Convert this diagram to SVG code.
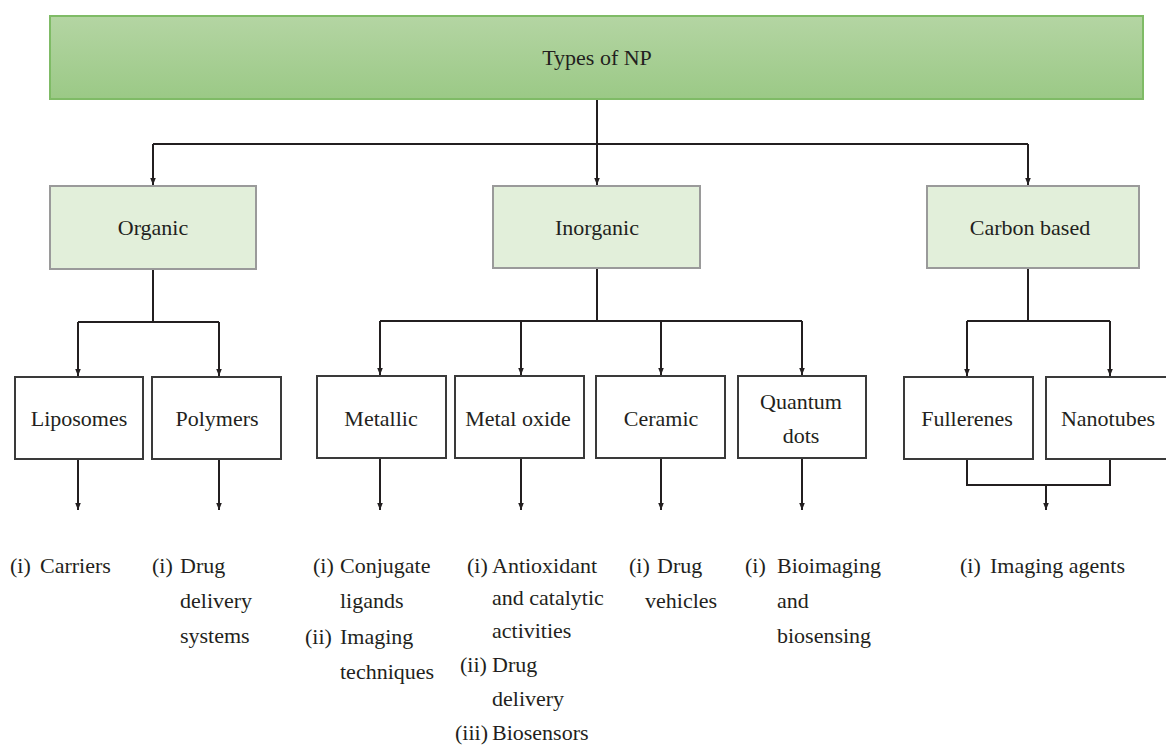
<svg xmlns="http://www.w3.org/2000/svg" width="1166" height="745" viewBox="0 0 1166 745">
<defs>
<linearGradient id="gTop" x1="0" y1="0" x2="0" y2="1">
<stop offset="0" stop-color="#b4d5a3"/>
<stop offset="1" stop-color="#9bc986"/>
</linearGradient>
<marker id="arr" viewBox="0 0 10 10" refX="10" refY="5" markerWidth="7" markerHeight="7" orient="auto" markerUnits="userSpaceOnUse">
<path d="M0,1 L10,5 L0,9 Z" fill="#231f20"/>
</marker>
<style>
.t{font-family:"Liberation Serif","DejaVu Serif",serif;font-size:22px;fill:#231f20}
.c{text-anchor:middle}
.top{fill:url(#gTop);stroke:#7fbb66;stroke-width:2}
.cat{fill:#e2efda;stroke:#9a9a9a;stroke-width:2}
.box{fill:#fff;stroke:#3a3a3a;stroke-width:2}
.ln{fill:none;stroke:#231f20;stroke-width:2}
.ar{fill:none;stroke:#231f20;stroke-width:2;marker-end:url(#arr)}
</style>
</defs>
<rect width="1166" height="745" fill="#fff"/>

<g id="connectors">
<path class="ln" d="M597,99 V144 M153,144 H1028"/>
<path class="ar" d="M153,144 V185"/>
<path class="ar" d="M597,144 V185"/>
<path class="ar" d="M1028,144 V185"/>

<path class="ln" d="M153,269 V322 M78,322 H219"/>
<path class="ar" d="M78,322 V376"/>
<path class="ar" d="M219,322 V376"/>

<path class="ln" d="M597,268 V321 M380,321 H802"/>
<path class="ar" d="M380,321 V375"/>
<path class="ar" d="M521,321 V375"/>
<path class="ar" d="M661,321 V375"/>
<path class="ar" d="M802,321 V375"/>

<path class="ln" d="M1028,268 V321 M967,321 H1110"/>
<path class="ar" d="M967,321 V376"/>
<path class="ar" d="M1110,321 V376"/>

<path class="ar" d="M78,459 V510"/>
<path class="ar" d="M219,459 V510"/>
<path class="ar" d="M380,458 V510"/>
<path class="ar" d="M521,458 V510"/>
<path class="ar" d="M661,458 V510"/>
<path class="ar" d="M802,458 V510"/>
<path class="ln" d="M967,459 V485 H1110 V459"/>
<path class="ar" d="M1046,485 V510"/>
</g>

<g id="types-of-np">
<rect class="top" x="50" y="16" width="1093" height="83"/>
<text class="t c" x="597" y="65">Types of NP</text>
</g>

<g id="organic">
<rect class="cat" x="50" y="186" width="206" height="83"/>
<text class="t c" x="153" y="235">Organic</text>
</g>
<g id="inorganic">
<rect class="cat" x="493" y="186" width="207" height="82"/>
<text class="t c" x="597" y="235">Inorganic</text>
</g>
<g id="carbon-based">
<rect class="cat" x="927" y="186" width="212" height="82"/>
<text class="t c" x="1030" y="235">Carbon based</text>
</g>

<g id="liposomes">
<rect class="box" x="15" y="377" width="128" height="82"/>
<text class="t c" x="79" y="426">Liposomes</text>
</g>
<g id="polymers">
<rect class="box" x="152" y="377" width="129" height="82"/>
<text class="t c" x="217" y="426">Polymers</text>
</g>
<g id="metallic">
<rect class="box" x="317" y="376" width="129" height="82"/>
<text class="t c" x="381" y="426">Metallic</text>
</g>
<g id="metal-oxide">
<rect class="box" x="455" y="376" width="129" height="82"/>
<text class="t c" x="518" y="426">Metal oxide</text>
</g>
<g id="ceramic">
<rect class="box" x="596" y="376" width="129" height="82"/>
<text class="t c" x="661" y="426">Ceramic</text>
</g>
<g id="quantum-dots">
<rect class="box" x="738" y="376" width="128" height="82"/>
<text class="t c" x="801" y="409">Quantum</text>
<text class="t c" x="801" y="443">dots</text>
</g>
<g id="fullerenes">
<rect class="box" x="904" y="377" width="129" height="82"/>
<text class="t c" x="967" y="426">Fullerenes</text>
</g>
<g id="nanotubes">
<rect class="box" x="1046" y="377" width="130" height="82"/>
<text class="t c" x="1108" y="426">Nanotubes</text>
</g>

<g id="uses-liposomes">
<text class="t" x="10" y="573">(i)</text>
<text class="t" x="40" y="573">Carriers</text>
</g>
<g id="uses-polymers">
<text class="t" x="152" y="573">(i)</text>
<text class="t" x="180" y="573">Drug</text>
<text class="t" x="180" y="608">delivery</text>
<text class="t" x="180" y="643">systems</text>
</g>
<g id="uses-metallic">
<text class="t" x="313" y="573">(i)</text>
<text class="t" x="340" y="573">Conjugate</text>
<text class="t" x="340" y="608">ligands</text>
<text class="t" x="305" y="644">(ii)</text>
<text class="t" x="340" y="644">Imaging</text>
<text class="t" x="340" y="679">techniques</text>
</g>
<g id="uses-metal-oxide">
<text class="t" x="467" y="573">(i)</text>
<text class="t" x="492" y="573">Antioxidant</text>
<text class="t" x="492" y="605">and catalytic</text>
<text class="t" x="492" y="638">activities</text>
<text class="t" x="460" y="672">(ii)</text>
<text class="t" x="492" y="672">Drug</text>
<text class="t" x="492" y="706">delivery</text>
<text class="t" x="455" y="740">(iii)</text>
<text class="t" x="492" y="740">Biosensors</text>
</g>
<g id="uses-ceramic">
<text class="t" x="629" y="573">(i)</text>
<text class="t" x="657" y="573">Drug</text>
<text class="t" x="645" y="608">vehicles</text>
</g>
<g id="uses-quantum-dots">
<text class="t" x="745" y="573">(i)</text>
<text class="t" x="777" y="573">Bioimaging</text>
<text class="t" x="777" y="608">and</text>
<text class="t" x="777" y="643">biosensing</text>
</g>
<g id="uses-carbon">
<text class="t" x="960" y="573">(i)</text>
<text class="t" x="990" y="573">Imaging agents</text>
</g>
</svg>
